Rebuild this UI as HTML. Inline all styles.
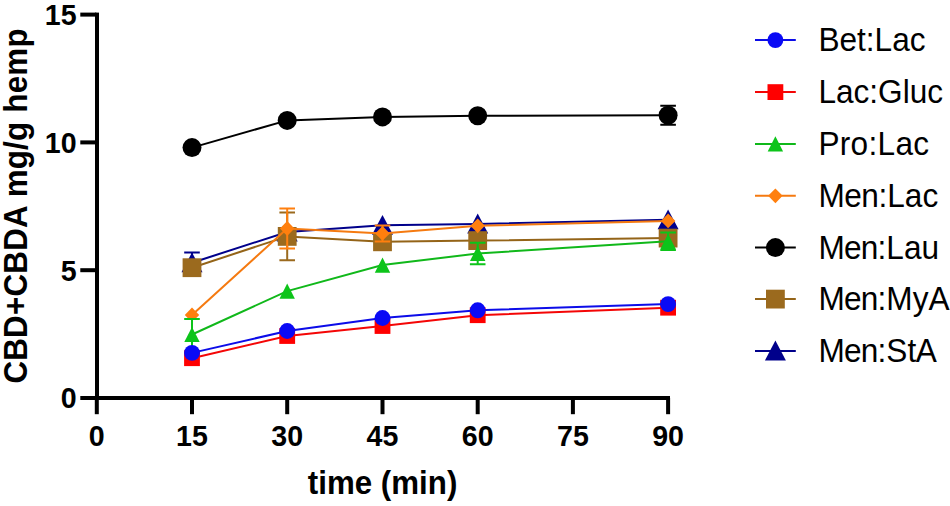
<!DOCTYPE html>
<html><head><meta charset="utf-8"><title>chart</title>
<style>
html,body{margin:0;padding:0;background:#fff;}
body{width:950px;height:506px;overflow:hidden;}
svg{display:block;}
text{font-family:"Liberation Sans",sans-serif;fill:#000;}
.b{font-weight:bold;}
</style></head><body>
<svg width="950" height="506" viewBox="0 0 950 506">
<rect width="950" height="506" fill="#fff"/>

<g><polyline points="192.0,262.7 287.2,232.0 382.5,225.3 477.7,223.9 668.1,219.8" fill="none" stroke="#00008B" stroke-width="2"/>
<path d="M192.0,252.4V273.0M184.2,252.4h15.6M184.2,273.0h15.6" stroke="#00008B" stroke-width="2" fill="none"/>
<polygon points="192.0,252.4 202.5,272.2 181.5,272.2" fill="#00008B"/>
<polygon points="287.2,221.7 297.7,241.5 276.7,241.5" fill="#00008B"/>
<polygon points="382.5,215.0 393.0,234.8 372.0,234.8" fill="#00008B"/>
<polygon points="477.7,213.6 488.2,233.4 467.2,233.4" fill="#00008B"/>
<polygon points="668.1,209.5 678.6,229.3 657.6,229.3" fill="#00008B"/>
</g>
<g><polyline points="192.0,267.7 287.2,236.4 382.5,241.8 477.7,240.6 668.1,238.1" fill="none" stroke="#946418" stroke-width="2"/>
<path d="M287.2,212.5V260.3M279.4,212.5h15.6M279.4,260.3h15.6" stroke="#9B6A1E" stroke-width="2" fill="none"/>
<rect x="182.6" y="258.3" width="18.8" height="18.8" fill="#9B6A1E"/>
<rect x="277.8" y="227.0" width="18.8" height="18.8" fill="#9B6A1E"/>
<rect x="373.1" y="232.4" width="18.8" height="18.8" fill="#9B6A1E"/>
<rect x="468.3" y="231.2" width="18.8" height="18.8" fill="#9B6A1E"/>
<rect x="658.7" y="228.7" width="18.8" height="18.8" fill="#9B6A1E"/>
</g>
<g><polyline points="192.0,147.6 287.2,120.4 382.5,116.9 477.7,115.8 668.1,115.3" fill="none" stroke="#000000" stroke-width="2"/>
<path d="M668.1,105.8V124.8M660.3,105.8h15.6M660.3,124.8h15.6" stroke="#000000" stroke-width="2" fill="none"/>
<circle cx="192.0" cy="147.6" r="9.50" fill="#000000"/>
<circle cx="287.2" cy="120.4" r="9.50" fill="#000000"/>
<circle cx="382.5" cy="116.9" r="9.50" fill="#000000"/>
<circle cx="477.7" cy="115.8" r="9.50" fill="#000000"/>
<circle cx="668.1" cy="115.3" r="9.50" fill="#000000"/>
</g>
<g><polyline points="192.0,315.0 287.2,228.5 382.5,233.4 477.7,225.8 668.1,220.9" fill="none" stroke="#F57A10" stroke-width="2"/>
<path d="M287.2,208.5V248.5M279.4,208.5h15.6M279.4,248.5h15.6" stroke="#FF7F0E" stroke-width="2" fill="none"/>
<path d="M382.5,225.4V241.4M374.7,225.4h15.6M374.7,241.4h15.6" stroke="#FF7F0E" stroke-width="2" fill="none"/>
<clipPath id="oc"><rect x="170" y="300" width="45" height="19.1"/></clipPath><g clip-path="url(#oc)"><polygon points="192.0,307.6 199.2,315.0 192.0,322.4 184.8,315.0" fill="#FF7F0E"/></g>
<polygon points="287.2,221.1 294.4,228.5 287.2,235.9 279.9,228.5" fill="#FF7F0E"/>
<polygon points="382.5,226.0 389.8,233.4 382.5,240.8 375.2,233.4" fill="#FF7F0E"/>
<polygon points="477.7,218.4 484.9,225.8 477.7,233.2 470.4,225.8" fill="#FF7F0E"/>
<polygon points="668.1,213.5 675.4,220.9 668.1,228.3 660.9,220.9" fill="#FF7F0E"/>
</g>
<g><polyline points="192.0,334.5 287.2,291.1 382.5,265.1 477.7,253.5 668.1,241.3" fill="none" stroke="#10B81A" stroke-width="2"/>
<path d="M192.0,319.1V349.9M184.2,319.1h15.6" stroke="#0DC41A" stroke-width="2" fill="none"/>
<path d="M477.7,242.7V264.3M469.9,242.7h15.6M469.9,264.3h15.6" stroke="#0DC41A" stroke-width="2" fill="none"/>
<path d="M668.1,232.6V250.0M660.3,232.6h15.6M660.3,250.0h15.6" stroke="#0DC41A" stroke-width="2" fill="none"/>
<polygon points="192.0,326.9 199.7,342.1 184.3,342.1" fill="#0DC41A"/>
<polygon points="287.2,283.5 294.9,298.8 279.5,298.8" fill="#0DC41A"/>
<polygon points="382.5,257.5 390.2,272.8 374.8,272.8" fill="#0DC41A"/>
<polygon points="477.7,245.8 485.4,261.1 470.0,261.1" fill="#0DC41A"/>
<polygon points="668.1,233.7 675.8,249.0 660.4,249.0" fill="#0DC41A"/>
</g>
<g><polyline points="192.0,358.2 287.2,336.0 382.5,326.0 477.7,315.2 668.1,307.7" fill="none" stroke="#F40606" stroke-width="2"/>
<rect x="184.1" y="350.3" width="15.8" height="15.8" fill="#FF0000"/>
<rect x="279.3" y="328.1" width="15.8" height="15.8" fill="#FF0000"/>
<rect x="374.6" y="318.1" width="15.8" height="15.8" fill="#FF0000"/>
<rect x="469.8" y="307.3" width="15.8" height="15.8" fill="#FF0000"/>
<rect x="660.2" y="299.8" width="15.8" height="15.8" fill="#FF0000"/>
</g>
<g><polyline points="192.0,352.9 287.2,331.0 382.5,318.0 477.7,310.3 668.1,304.1" fill="none" stroke="#0C0CE8" stroke-width="2"/>
<circle cx="192.0" cy="352.9" r="7.95" fill="#0A0AF5"/>
<circle cx="287.2" cy="331.0" r="7.95" fill="#0A0AF5"/>
<circle cx="382.5" cy="318.0" r="7.95" fill="#0A0AF5"/>
<circle cx="477.7" cy="310.3" r="7.95" fill="#0A0AF5"/>
<circle cx="668.1" cy="304.1" r="7.95" fill="#0A0AF5"/>
</g>
<g fill="#000">
<rect x="95" y="12.6" width="4" height="387.4"/>
<rect x="80.3" y="396" width="589.7" height="4"/>
<rect x="80.3" y="12.6" width="16" height="4"/>
<rect x="80.3" y="140.4" width="16" height="4"/>
<rect x="80.3" y="268.2" width="16" height="4"/>
<rect x="94.8" y="398" width="4" height="16.2"/>
<rect x="190.0" y="398" width="4" height="16.2"/>
<rect x="285.2" y="398" width="4" height="16.2"/>
<rect x="380.5" y="398" width="4" height="16.2"/>
<rect x="475.7" y="398" width="4" height="16.2"/>
<rect x="570.9" y="398" width="4" height="16.2"/>
<rect x="666.1" y="398" width="4" height="16.2"/>
</g>
<text class="b" font-size="28.6" transform="translate(76.60,24.70) scale(1,1.04)" text-anchor="end">15</text>
<text class="b" font-size="28.6" transform="translate(76.60,152.60) scale(1,1.04)" text-anchor="end">10</text>
<text class="b" font-size="28.6" transform="translate(76.60,281.10) scale(1,1.04)" text-anchor="end">5</text>
<text class="b" font-size="28.6" transform="translate(76.60,408.30) scale(1,1.04)" text-anchor="end">0</text>
<text class="b" font-size="28.6" transform="translate(96.80,445.90) scale(1,1.04)" text-anchor="middle">0</text>
<text class="b" font-size="28.6" transform="translate(192.02,445.90) scale(1,1.04)" text-anchor="middle">15</text>
<text class="b" font-size="28.6" transform="translate(287.24,445.90) scale(1,1.04)" text-anchor="middle">30</text>
<text class="b" font-size="28.6" transform="translate(382.46,445.90) scale(1,1.04)" text-anchor="middle">45</text>
<text class="b" font-size="28.6" transform="translate(477.68,445.90) scale(1,1.04)" text-anchor="middle">60</text>
<text class="b" font-size="28.6" transform="translate(572.90,445.90) scale(1,1.04)" text-anchor="middle">75</text>
<text class="b" font-size="28.6" transform="translate(668.12,445.90) scale(1,1.04)" text-anchor="middle">90</text>
<text class="b" font-size="31.3" transform="translate(382.60,493.80) scale(1,1.04)" text-anchor="middle">time (min)</text>
<text class="b" font-size="31.3" transform="translate(26.80,205.90) rotate(-90) scale(1,1.04)" text-anchor="middle" letter-spacing="0.25">CBD+CBDA mg/g hemp</text>
<line x1="755" x2="795.8" y1="40.1" y2="40.1" stroke="#0C0CE8" stroke-width="2"/>
<circle cx="775.4" cy="40.1" r="7.95" fill="#0A0AF5"/>
<text font-size="31.6" transform="translate(818.40,51.00) scale(1,1.04)" text-anchor="start">Bet:Lac</text>
<line x1="755" x2="795.8" y1="92.1" y2="92.1" stroke="#F40606" stroke-width="2"/>
<rect x="767.5" y="84.2" width="15.8" height="15.8" fill="#FF0000"/>
<text font-size="31.6" transform="translate(818.40,103.00) scale(1,1.04)" text-anchor="start">Lac:Gluc</text>
<line x1="755" x2="795.8" y1="143.9" y2="143.9" stroke="#10B81A" stroke-width="2"/>
<polygon points="775.4,136.2 783.1,151.6 767.7,151.6" fill="#0DC41A"/>
<text font-size="31.6" transform="translate(818.40,154.80) scale(1,1.04)" text-anchor="start"><tspan letter-spacing="0.32">Pro:Lac</tspan></text>
<line x1="755" x2="795.8" y1="195.8" y2="195.8" stroke="#F57A10" stroke-width="2"/>
<polygon points="775.4,188.4 782.6,195.8 775.4,203.2 768.1,195.8" fill="#FF7F0E"/>
<text font-size="31.6" transform="translate(818.40,206.70) scale(1,1.04)" text-anchor="start"><tspan letter-spacing="-0.45">Men</tspan>:Lac</text>
<line x1="755" x2="795.8" y1="247.6" y2="247.6" stroke="#000000" stroke-width="2"/>
<circle cx="775.4" cy="247.6" r="9.50" fill="#000000"/>
<text font-size="31.6" transform="translate(818.40,258.50) scale(1,1.04)" text-anchor="start"><tspan letter-spacing="-0.75">Men</tspan>:Lau</text>
<line x1="755" x2="795.8" y1="299.1" y2="299.1" stroke="#946418" stroke-width="2"/>
<rect x="766.0" y="289.7" width="18.8" height="18.8" fill="#9B6A1E"/>
<text font-size="31.6" transform="translate(818.40,310.00) scale(1,1.04)" text-anchor="start"><tspan letter-spacing="-0.75">Men</tspan>:MyA</text>
<line x1="755" x2="795.8" y1="350.9" y2="350.9" stroke="#00008B" stroke-width="2"/>
<polygon points="775.4,340.6 785.9,360.4 764.9,360.4" fill="#00008B"/>
<text font-size="31.6" transform="translate(818.40,361.80) scale(1,1.04)" text-anchor="start"><tspan letter-spacing="-0.75">Men</tspan>:S<tspan letter-spacing="-0.5">tA</tspan></text>
</svg></body></html>
